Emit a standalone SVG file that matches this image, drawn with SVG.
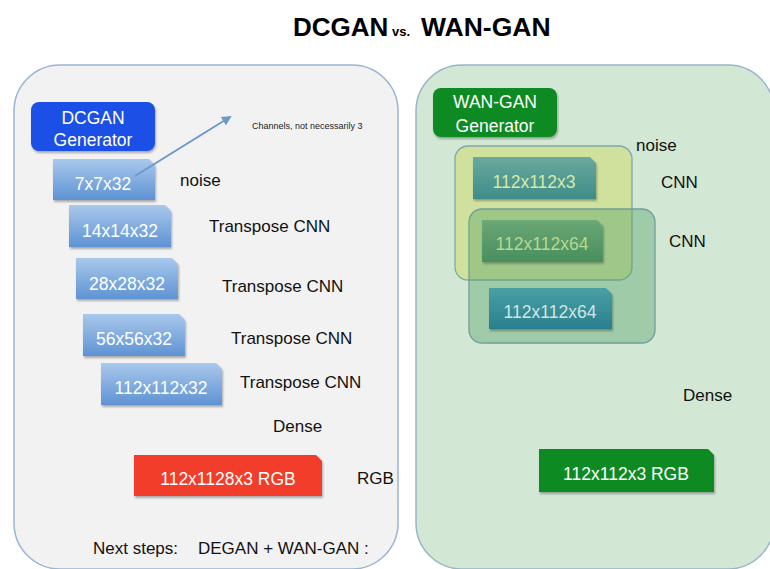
<svg xmlns="http://www.w3.org/2000/svg" width="770" height="569" viewBox="0 0 770 569">
<defs>
<linearGradient id="gBlue" x1="0" y1="0" x2="0" y2="1"><stop offset="0" stop-color="#a9c8ec"/><stop offset="1" stop-color="#5e93d3"/></linearGradient>
<linearGradient id="gTeal" x1="0" y1="0" x2="0" y2="1"><stop offset="0" stop-color="#6aa9a0"/><stop offset="1" stop-color="#3f8c88"/></linearGradient>
<linearGradient id="gGreen" x1="0" y1="0" x2="0" y2="1"><stop offset="0" stop-color="#66a676"/><stop offset="1" stop-color="#3e8a5a"/></linearGradient>
<linearGradient id="gTeal2" x1="0" y1="0" x2="0" y2="1"><stop offset="0" stop-color="#4aa0a4"/><stop offset="1" stop-color="#2a7f8f"/></linearGradient>
<filter id="sh" x="-10%" y="-10%" width="130%" height="140%"><feDropShadow dx="1" dy="2" stdDeviation="1.2" flood-color="#000" flood-opacity="0.3"/></filter>
<marker id="arr" markerWidth="10" markerHeight="10" refX="8" refY="5" orient="auto" markerUnits="userSpaceOnUse"><path d="M0,0 L10,5 L0,10 Z" fill="#6f98c6"/></marker>
</defs>
<style>
text{font-family:"Liberation Sans",Arial,sans-serif;}
.lbl{font-size:17px;fill:#111;}
.box{font-size:17.5px;fill:#fff;text-anchor:middle;}
.panel{stroke-width:1.5;}
.ttl{font-weight:bold;fill:#000;}
</style>
<rect width="770" height="569" fill="#fff"/>
<g id="title">
<text class="ttl" x="293" y="36" font-size="26">DCGAN</text>
<text class="ttl" x="392" y="36" font-size="13">vs.</text>
<text class="ttl" x="421" y="36" font-size="26.5">WAN-GAN</text>
</g>
<g id="left-panel">
<rect class="panel" x="14" y="65" width="384" height="504" rx="46" fill="#f2f2f2" stroke="#9ab4d4"/>
</g>
<g id="right-panel">
<rect class="panel" x="416" y="65" width="358" height="504" rx="46" fill="#d2e7d4" stroke="#9ab4c8"/>
</g>
<g id="dcgan-gen">
<rect x="31" y="102" width="124" height="49" rx="8" fill="#1f50e6" filter="url(#sh)"/>
<text class="box" x="93" y="124" font-size="18">DCGAN</text>
<text class="box" x="93" y="146" font-size="18">Generator</text>
</g>
<g id="n7">
<path d="M53,159 H149 L155,165 V200 H53 Z" fill="url(#gBlue)" filter="url(#sh)"/>
<text class="box" x="103" y="190">7x7x32</text>
</g>
<g id="n14">
<path d="M69,205 H165 L171,211 V247 H69 Z" fill="url(#gBlue)" filter="url(#sh)"/>
<text class="box" x="120" y="237">14x14x32</text>
</g>
<g id="n28">
<path d="M76,258 H172 L178,264 V299 H76 Z" fill="url(#gBlue)" filter="url(#sh)"/>
<text class="box" x="127" y="290">28x28x32</text>
</g>
<g id="n56">
<path d="M83,314 H179 L185,320 V356 H83 Z" fill="url(#gBlue)" filter="url(#sh)"/>
<text class="box" x="134" y="345">56x56x32</text>
</g>
<g id="n112">
<path d="M101,363 H216 L222,369 V405 H101 Z" fill="url(#gBlue)" filter="url(#sh)"/>
<text class="box" x="161" y="394">112x112x32</text>
</g>
<g id="rgb-red">
<path d="M134,455 H316 L322,461 V496 H134 Z" fill="#f23c2a" filter="url(#sh)"/>
<text class="box" x="228" y="485">112x1128x3 RGB</text>
</g>
<g id="left-labels">
<text x="252" y="129" font-size="9" fill="#222">Channels, not necessarily 3</text>
<text class="lbl" x="180" y="186">noise</text>
<text class="lbl" x="209" y="232">Transpose CNN</text>
<text class="lbl" x="222" y="292">Transpose CNN</text>
<text class="lbl" x="231" y="344">Transpose CNN</text>
<text class="lbl" x="240" y="388">Transpose CNN</text>
<text class="lbl" x="273" y="432">Dense</text>
<text class="lbl" x="357" y="484">RGB</text>
<text class="lbl" x="93" y="554">Next steps:</text>
<text class="lbl" x="198" y="554">DEGAN + WAN-GAN :</text>
</g>
<g id="wangan-gen">
<rect x="433" y="88" width="124" height="49" rx="8" fill="#0b8a22" filter="url(#sh)"/>
<text class="box" x="495" y="108" font-size="18">WAN-GAN</text>
<text class="box" x="495" y="132" font-size="18">Generator</text>
</g>
<g id="group-yellow">
<rect x="455" y="146" width="177" height="134" rx="13" fill="#d0df94" fill-opacity="0.85" stroke="#7fa8a6" stroke-width="1.3"/>
</g>
<g id="w3">
<path d="M473,157 H590 L596,163 V199 H473 Z" fill="url(#gTeal)" filter="url(#sh)"/>
<text class="box" x="534" y="188" style="fill:#d6eaa6">112x112x3</text>
</g>
<g id="group-green">
<rect x="469" y="209" width="186" height="134" rx="13" fill="#5aa46c" fill-opacity="0.42" stroke="#6f9f9a" stroke-width="1.3"/>
</g>
<g id="w64a">
<path d="M482,220 H597 L603,226 V262 H482 Z" fill="url(#gGreen)" fill-opacity="0.85" filter="url(#sh)"/>
<text class="box" x="542" y="250" style="fill:#b8d890">112x112x64</text>
</g>
<g id="w64b">
<path d="M489,288 H606 L612,294 V329 H489 Z" fill="url(#gTeal2)" filter="url(#sh)"/>
<text class="box" x="550" y="318" style="fill:#cfe6e2">112x112x64</text>
</g>
<g id="rgb-green">
<path d="M539,449 H708 L714,455 V492 H539 Z" fill="#0b8a22" filter="url(#sh)"/>
<text class="box" x="626" y="480">112x112x3 RGB</text>
</g>
<g id="right-labels">
<text class="lbl" x="636" y="151">noise</text>
<text class="lbl" x="661" y="188">CNN</text>
<text class="lbl" x="669" y="247">CNN</text>
<text class="lbl" x="683" y="401">Dense</text>
</g>
<g id="connectors">
<line x1="135" y1="176" x2="230" y2="117" stroke="#6f98c6" stroke-width="2" marker-end="url(#arr)"/>
</g>
</svg>
